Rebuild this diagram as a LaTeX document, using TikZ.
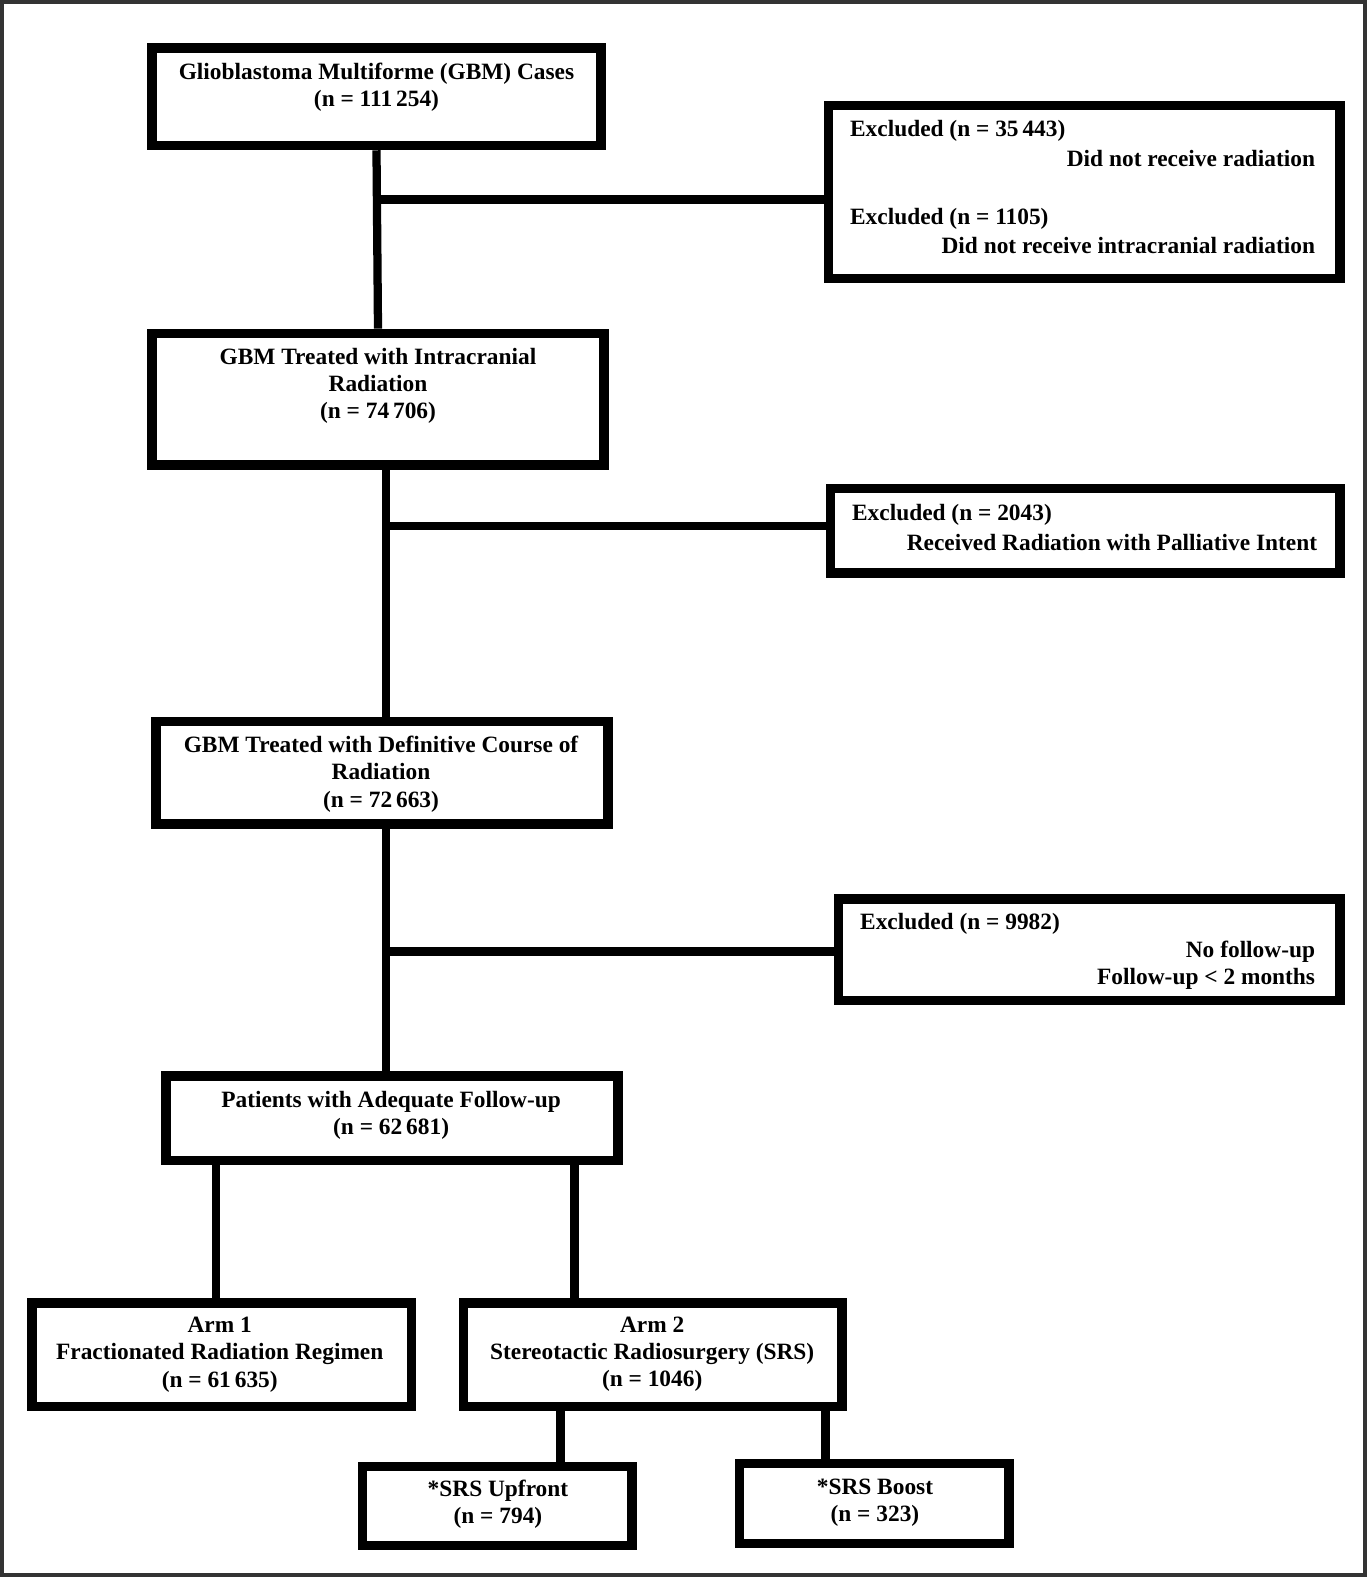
\documentclass[tikz,border=0pt]{standalone}
\usepackage{fontspec}
\setmainfont{Liberation Serif}
\tikzset{
  box/.style={shape=rectangle,draw=black,line width=5.4pt},
  txt/.style={align=center,inner sep=0pt,font=\bfseries\fontsize{13.3}{15.5}\selectfont},
  link/.style={draw=black,line width=4.7pt}
}
\begin{document}
\begin{tikzpicture}[x=0.02016cm,y=-0.02016cm]
            \useasboundingbox (0,0) rectangle (1357,1564.5);
            \draw[line width=2.3pt,draw=black!80] (1.5,2) rectangle (1354.5,1562.5);

            \node[box,minimum width=8.98cm,minimum height=1.95cm] (cases) at (373.5,96) {};
            \node[txt] (casesT) at (373.5,86.5) {Glioblastoma Multiforme (GBM) Cases\\(n = 111\,254)};

            \node[box,minimum width=10.23cm,minimum height=3.46cm] (excl1) at (1075.5,190.5) {};
            \node[txt,anchor=west] (excl1a) at (843,130) {Excluded (n = 35\,443)};
            \node[txt,anchor=east] (excl1b) at (1305,157) {Did not receive radiation};
            \node[txt,anchor=west] (excl1c) at (843,217) {Excluded (n = 1105)};
            \node[txt,anchor=east] (excl1d) at (1305,244) {Did not receive intracranial radiation};

            \node[box,minimum width=9.04cm,minimum height=2.63cm] (treat) at (375,396) {};
            \node[txt] (treatT) at (375,383) {GBM Treated with Intracranial\\Radiation\\(n = 74\,706)};

            \node[box,minimum width=10.19cm,minimum height=1.69cm] (excl2) at (1076.5,526.5) {};
            \node[txt,anchor=west] (excl2a) at (845,511) {Excluded (n = 2043)};
            \node[txt,anchor=east] (excl2b) at (1307,538) {Received Radiation with Palliative Intent};

            \node[box,minimum width=9.04cm,minimum height=2.05cm] (defin) at (379,766.5) {};
            \node[txt] (definT) at (378,768) {GBM Treated with Definitive Course of\\Radiation\\(n = 72\,663)};

            \node[box,minimum width=10.03cm,minimum height=2.03cm] (excl3) at (1080.5,942) {};
            \node[txt,anchor=west] (excl3a) at (853,917) {Excluded (n = 9982)};
            \node[txt,anchor=east] (excl3b) at (1305,944) {No follow-up};
            \node[txt,anchor=east] (excl3c) at (1305,971) {Follow-up < 2 months};

            \node[box,minimum width=9.04cm,minimum height=1.69cm] (follow) at (389,1109.5) {};
            \node[txt] (followT) at (388,1106.5) {Patients with Adequate Follow-up\\(n = 62\,681)};

            \node[box,minimum width=7.59cm,minimum height=2.07cm] (arm1) at (220,1344) {};
            \node[txt] (arm1T) at (218,1344) {Arm 1\\Fractionated Radiation Regimen\\(n = 61\,635)};

            \node[box,minimum width=7.57cm,minimum height=2.07cm] (arm2) at (647.5,1344) {};
            \node[txt] (arm2T) at (647,1343.5) {Arm 2\\Stereotactic Radiosurgery (SRS)\\(n = 1046)};

            \node[box,minimum width=5.39cm,minimum height=1.58cm] (upfront) at (493.5,1494) {};
            \node[txt] (upfrontT) at (494,1492.5) {*SRS Upfront\\(n = 794)};

            \node[box,minimum width=5.39cm,minimum height=1.6cm] (boost) at (867.5,1491.5) {};
            \node[txt] (boostT) at (868,1490.5) {*SRS Boost\\(n = 323)};

            % branch points
            \coordinate (j1) at (375,198);
            \coordinate (j2) at (383,522);
            \coordinate (j3) at (383,944);
            \coordinate (k1) at (214,1220);
            \coordinate (k2) at (570,1220);
            \coordinate (k3) at (556,1425);
            \coordinate (k4) at (819,1425);

            \path[link] (cases.south) -- (treat.north);
            \path[link] (j1) -- (j1 -| excl1.west);
            \path[link] (treat.south -| j2) -- (defin.north -| j2);
            \path[link] (j2) -- (j2 -| excl2.west);
            \path[link] (defin.south -| j3) -- (follow.north -| j3);
            \path[link] (j3) -- (j3 -| excl3.west);
            \path[link] (follow.south -| k1) -- (arm1.north -| k1);
            \path[link] (follow.south -| k2) -- (arm2.north -| k2);
            \path[link] (arm2.south -| k3) -- (upfront.north -| k3);
            \path[link] (arm2.south -| k4) -- (boost.north -| k4);
        \end{tikzpicture}
\end{document}
